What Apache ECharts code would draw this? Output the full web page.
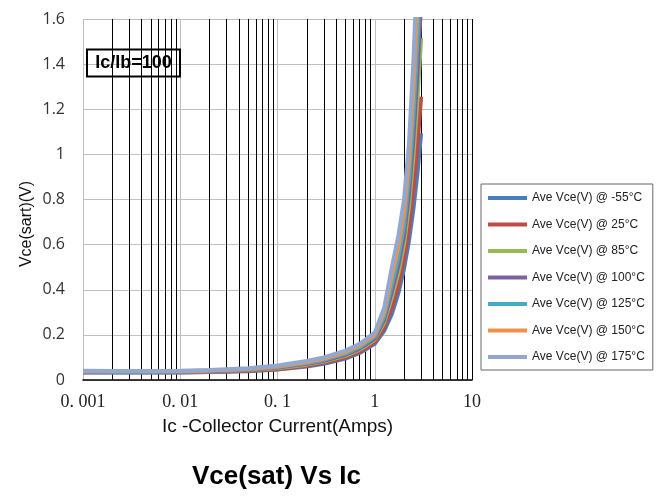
<!DOCTYPE html>
<html>
<head>
<meta charset="utf-8">
<script src="https://cdn.jsdelivr.net/npm/echarts@6/dist/echarts.min.js"></script>
<style>
  html, body { margin: 0; padding: 0; background: #fff; }
  #chart { width: 661px; height: 496px; }
</style>
</head>
<body>
<div id="chart"></div>
<script>
// Collector current sample points (A)
const ic = [0.001, 0.002, 0.005, 0.01, 0.02, 0.05, 0.1, 0.2, 0.3, 0.5, 0.7, 1, 1.25, 1.5, 1.75, 2, 2.25, 2.5, 2.75, 3];

// Average Vce(sat) in volts at each temperature
const vceM55 = [0.033, 0.033, 0.033, 0.033, 0.035, 0.039, 0.046, 0.060, 0.072, 0.095, 0.120, 0.160, 0.218, 0.293, 0.385, 0.493, 0.618, 0.759, 0.917, 1.093];
const vce25  = [0.034, 0.034, 0.034, 0.034, 0.036, 0.041, 0.048, 0.063, 0.076, 0.100, 0.125, 0.167, 0.232, 0.321, 0.419, 0.534, 0.676, 0.848, 1.043, 1.256];
const vce85  = [0.036, 0.035, 0.035, 0.036, 0.038, 0.044, 0.052, 0.068, 0.082, 0.107, 0.134, 0.178, 0.254, 0.366, 0.474, 0.601, 0.769, 0.990, 1.244, 1.516];
const vce100 = [0.037, 0.036, 0.036, 0.037, 0.039, 0.045, 0.055, 0.072, 0.085, 0.112, 0.139, 0.184, 0.267, 0.392, 0.507, 0.640, 0.825, 1.076, 1.365, 1.672];
const vce125 = [0.038, 0.037, 0.037, 0.038, 0.041, 0.047, 0.057, 0.075, 0.089, 0.117, 0.145, 0.191, 0.281, 0.421, 0.543, 0.683, 0.886, 1.169, 1.496, 1.841];
const vce150 = [0.039, 0.039, 0.039, 0.039, 0.042, 0.049, 0.060, 0.079, 0.094, 0.123, 0.152, 0.200, 0.300, 0.459, 0.589, 0.739, 0.964, 1.288, 1.663, 2.059];
const vce175 = [0.041, 0.040, 0.040, 0.041, 0.044, 0.052, 0.064, 0.084, 0.100, 0.130, 0.160, 0.210, 0.320, 0.500, 0.640, 0.800, 1.050, 1.420, 1.850, 2.300];

const seriesNames = [
  'Ave Vce(V) @ -55°C', 'Ave Vce(V) @ 25°C', 'Ave Vce(V) @ 85°C', 'Ave Vce(V) @ 100°C',
  'Ave Vce(V) @ 125°C', 'Ave Vce(V) @ 150°C', 'Ave Vce(V) @ 175°C'
];
const seriesValues = [vceM55, vce25, vce85, vce100, vce125, vce150, vce175];
const seriesColors = ['#4A7EBB', '#BE4B48', '#98B954', '#7D60A0', '#46AAC5', '#F0914A', '#92A8D1'];

// Axis tick labels
const xTickLabels = ['0. 001', '0. 01', '0. 1', '1', '10'];
const yTicks = [0, 0.2, 0.4, 0.6, 0.8, 1, 1.2, 1.4, 1.6];

// Intermediate log grid lines (2..9 within each decade, plus right border)
const minorLines = [];
for (let e = -3; e <= 0; e++) {
  for (let d = 2; d <= 9; d++) minorLines.push(+(d * Math.pow(10, e)).toPrecision(3));
}
minorLines.push(10);

const chart = echarts.init(document.getElementById('chart'), null, { renderer: 'canvas' });

const series = seriesNames.map((name, i) => ({
  name: name,
  type: 'line',
  symbol: 'none',
  showSymbol: false,
  data: ic.map((x, k) => [x, seriesValues[i][k]]),
  lineStyle: { width: 4, color: seriesColors[i] },
  itemStyle: { color: seriesColors[i] },
  z: 3 + i,
  clip: true
}));

series.push({
  name: 'grid',
  type: 'line',
  data: [],
  silent: true,
  markLine: {
    silent: true,
    z: 1,
    precision: 8,
    symbol: ['none', 'none'],
    label: { show: false },
    lineStyle: { color: '#000', width: 1, type: 'solid' },
    emphasis: { disabled: true },
    data: minorLines.map(v => ({ xAxis: v }))
  }
});

chart.setOption({
  animation: false,
  backgroundColor: '#fff',
  grid: { left: 83, right: 189, top: 19, bottom: 116, containLabel: false },
  xAxis: {
    type: 'log',
    logBase: 10,
    min: 0.001,
    max: 10,
    name: 'Ic -Collector Current(Amps)',
    nameLocation: 'middle',
    nameGap: 37,
    nameTextStyle: { fontFamily: 'Liberation Sans', fontSize: 19, color: '#111' },
    axisLine: { show: true, lineStyle: { color: '#000', width: 1.5 } },
    axisTick: { show: false },
    axisLabel: {
      margin: 13,
      fontFamily: 'Liberation Serif',
      fontSize: 18,
      color: '#222',
      formatter: v => xTickLabels[Math.round(Math.log10(v)) + 3]
    },
    splitLine: { show: true, lineStyle: { color: '#BFBFBF', width: 1 } }
  },
  yAxis: {
    type: 'value',
    min: yTicks[0],
    max: yTicks[yTicks.length - 1],
    interval: 0.2,
    axisLine: { show: false },
    axisTick: { show: false },
    axisLabel: { margin: 18, fontFamily: 'Open Sans', fontSize: 16, color: '#333' },
    splitLine: { show: true, lineStyle: { color: '#BFBFBF', width: 1 } }
  },
  legend: {
    orient: 'vertical',
    left: 481,
    top: 184,
    padding: [8, 8, 7, 7],
    icon: 'rect',
    itemWidth: 39,
    itemHeight: 4,
    itemGap: 14.5,
    borderColor: '#666',
    borderWidth: 1,
    backgroundColor: '#fff',
    data: seriesNames,
    textStyle: { fontFamily: 'Liberation Sans', fontSize: 12, color: '#222' }
  },
  graphic: [
    {
      type: 'rect',
      shape: { x: 87, y: 49.5, width: 93, height: 27 },
      style: { fill: 'none', stroke: '#000', lineWidth: 2 },
      z: 20
    },
    {
      type: 'text',
      x: 133.5, y: 63,
      style: {
        text: 'Ic/Ib=100',
        font: 'bold 18px "Liberation Sans"',
        fill: '#000',
        textAlign: 'center',
        textVerticalAlign: 'middle'
      },
      z: 20
    },
    {
      type: 'text',
      x: 27, y: 224,
      rotation: Math.PI / 2,
      style: {
        text: 'Vce(sart)(V)',
        font: '16px "Liberation Sans"',
        fill: '#111',
        textAlign: 'center',
        textVerticalAlign: 'middle'
      }
    },
    {
      type: 'text',
      x: 276.5, y: 477,
      style: {
        text: 'Vce(sat) Vs Ic',
        font: 'bold 26px "Liberation Sans"',
        fill: '#000',
        textAlign: 'center',
        textVerticalAlign: 'middle'
      }
    }
  ],
  series: series
});
</script>
</body>
</html>
